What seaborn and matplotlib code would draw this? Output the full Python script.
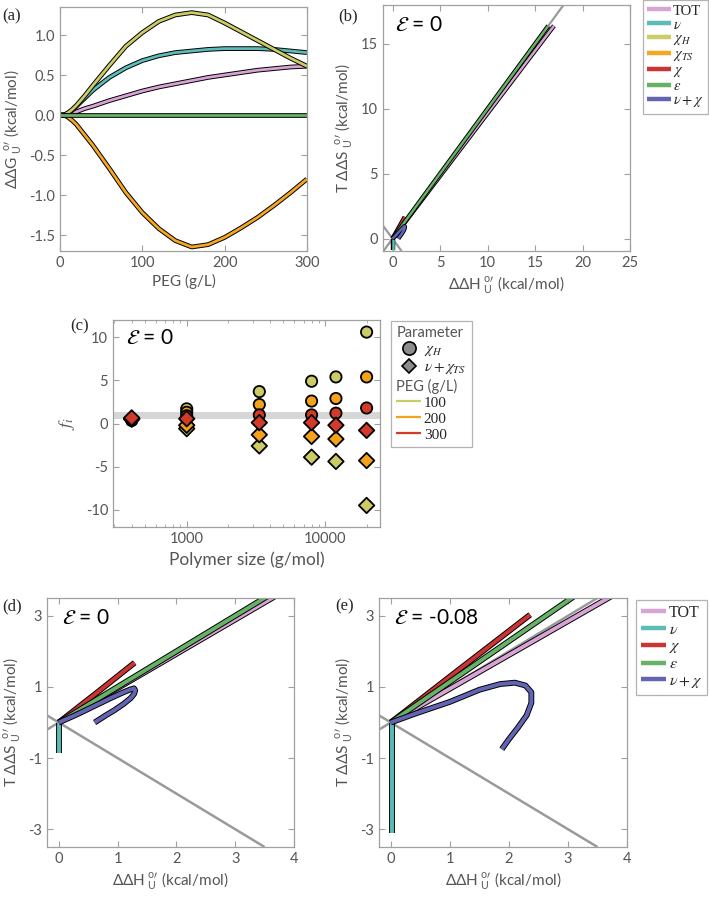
import matplotlib
matplotlib.use("Agg")
import matplotlib.pyplot as plt
import matplotlib.patheffects as pe
from matplotlib.lines import Line2D
from matplotlib.font_manager import FontProperties
import pandas as pd
import seaborn as sns


# ---- (a) ddG vs PEG concentration ----
peg_conc = [0, 5, 10, 15, 20, 30, 40, 60, 80, 100, 120, 140, 160, 180, 200, 220, 240, 260, 280, 300]
dg_tot = [0, 0, 0.01, 0.025, 0.04, 0.08, 0.11, 0.18, 0.24, 0.30, 0.35, 0.39, 0.43, 0.47, 0.50, 0.53, 0.56, 0.58, 0.60, 0.61]
dg_nu = [0, 0, 0.02, 0.06, 0.11, 0.21, 0.31, 0.47, 0.59, 0.68, 0.74, 0.78, 0.80, 0.82, 0.83, 0.83, 0.83, 0.82, 0.80, 0.78]
dg_chi_h = [0, 0, 0.03, 0.07, 0.12, 0.24, 0.37, 0.62, 0.86, 1.03, 1.17, 1.25, 1.28, 1.25, 1.15, 1.04, 0.93, 0.82, 0.71, 0.61]
dg_chi_ts = [0, 0, -0.03, -0.07, -0.12, -0.25, -0.38, -0.67, -0.97, -1.22, -1.42, -1.57, -1.65, -1.62, -1.53, -1.41, -1.28, -1.13, -0.97, -0.80]
dg_eps = [0, 0, 0, 0, 0, 0, 0, 0, 0, 0, 0, 0, 0, 0, 0, 0, 0, 0, 0, 0]

# ---- (b)/(d) enthalpy-entropy, eps = 0 ----
e0_tot_dh = [0.0, 17.0]
e0_tot_tds = [0.0, 16.4]
e0_nu_dh = [0.0, 0.0]
e0_nu_tds = [0.0, -0.85]
e0_chi_dh = [0.0, 0.65, 1.29]
e0_chi_tds = [0.0, 0.84, 1.68]
e0_eps_dh = [0.0, 16.4]
e0_eps_tds = [0.0, 16.4]
e0_nuchi_dh = [0.0, 0.3, 0.6, 0.9, 1.1, 1.22, 1.28, 1.30, 1.28, 1.22, 1.10, 0.95, 0.80, 0.61]
e0_nuchi_tds = [0.0, 0.22, 0.46, 0.70, 0.85, 0.93, 0.96, 0.90, 0.80, 0.68, 0.52, 0.35, 0.20, 0.0]

# ---- (e) eps = -0.08 ----
e8_tot_dh = [0.0, 4.0]
e8_tot_tds = [0.0, 3.8]
e8_nu_dh = [0.02, 0.02]
e8_nu_tds = [0.0, -3.12]
e8_chi_dh = [0.0, 1.18, 2.36]
e8_chi_tds = [0.0, 1.52, 3.03]
e8_eps_dh = [0.0, 3.5]
e8_eps_tds = [0.0, 4.0]
e8_nuchi_dh = [0.0, 0.45, 1.0, 1.5, 1.85, 2.1, 2.28, 2.38, 2.38, 2.30, 2.15, 2.0, 1.88]
e8_nuchi_tds = [0.0, 0.27, 0.58, 0.92, 1.08, 1.12, 1.04, 0.85, 0.55, 0.20, -0.15, -0.47, -0.75]

# ---- (c) f_i vs polymer size ----
poly_size = [400, 1000, 3350, 8000, 12000, 20000]
f_chih_100 = [0.35, 1.7, 3.7, 4.9, 5.4, 10.6]
f_chih_200 = [0.4, 1.3, 2.2, 2.6, 2.9, 5.4]
f_chih_300 = [0.45, 0.9, 1.0, 1.0, 1.2, 1.8]
f_nuchits_100 = [0.5, -0.6, -2.6, -3.9, -4.4, -9.5]
f_nuchits_200 = [0.55, -0.2, -1.3, -1.5, -1.8, -4.3]
f_nuchits_300 = [0.65, 0.55, 0.1, 0.1, -0.2, -0.8]

C_TOT = "#d9a3d6"
C_NU = "#5cbcb8"
C_CHIH = "#cccc66"
C_CHITS = "#f5a623"
C_CHI = "#cc3333"
C_EPS = "#66b266"
C_NUCHI = "#6464b4"
PEG_COLORS = {100: "#cccc66", 200: "#f5a21b", 300: "#d23a2a"}
GREY = "#9a9a9a"
SPINE = "#a0a0a0"
TEXT = "#555555"

sns.set_style("ticks")
plt.rcParams["font.family"] = ["Lato", "DejaVu Sans"]
plt.rcParams["axes.unicode_minus"] = False
plt.rcParams["lines.solid_capstyle"] = "butt"
plt.rcParams["lines.solid_joinstyle"] = "round"

SERIF = ["Liberation Serif", "DejaVu Serif"]
DG_LABEL = "ΔΔG$_{\\ \\mathregular{U}}^{\\ \\ \\mathregular{o}\\prime}$ (kcal/mol)"
DH_LABEL = "ΔΔH$_{\\ \\mathregular{U}}^{\\ \\mathregular{o}\\prime}$ (kcal/mol)"
TS_LABEL = "T ΔΔS$_{\\ \\mathregular{U}}^{\\ \\ \\mathregular{o}\\prime}$ (kcal/mol)"


def style_axes(ax):
    for spine in ax.spines.values():
        spine.set_color(SPINE)
        spine.set_linewidth(0.9)
    ax.tick_params(which="both", direction="in", top=True, right=True,
                   color=SPINE, labelcolor=TEXT, labelsize=10.5)
    ax.tick_params(which="major", length=4, width=0.8)
    ax.tick_params(which="minor", length=2.5, width=0.6)
    ax.xaxis.label.set_color(TEXT)
    ax.yaxis.label.set_color(TEXT)


def outlined(ax, x, y, color, lw):
    sns.lineplot(x=x, y=y, color=color, lw=lw, sort=False, estimator=None, ax=ax,
                 path_effects=[pe.Stroke(linewidth=lw + 1.4, foreground="black"), pe.Normal()])


def eps_text(ax, label, x=0.05):
    ax.text(x, 0.96, label, transform=ax.transAxes, fontsize=15, va="top",
            math_fontfamily="stix", color="black")


def line_legend(fig, entries, x, y, size=11.5):
    handles = [Line2D([], [], color=c, lw=3.2) for c, _ in entries]
    labels = [lab for _, lab in entries]
    prop = FontProperties(family=SERIF, size=size, math_fontfamily="stix")
    leg = fig.legend(handles, labels, loc="upper left", bbox_to_anchor=(x, y),
                     bbox_transform=fig.transFigure, prop=prop, frameon=True,
                     fancybox=False, handlelength=1.6, handletextpad=0.15,
                     labelspacing=0.05, borderpad=0.3, borderaxespad=0)
    leg.get_frame().set_edgecolor(SPINE)
    leg.get_frame().set_linewidth(0.9)
    return leg


fig = plt.figure(figsize=(7.09, 9.0), dpi=100)

# ---------------- (a) ----------------
ax_a = fig.add_axes([60 / 709, 1 - 251 / 900, 247 / 709, 244 / 900])
outlined(ax_a, peg_conc, dg_tot, C_TOT, 2.0)
outlined(ax_a, peg_conc, dg_nu, C_NU, 2.0)
outlined(ax_a, peg_conc, dg_chi_h, C_CHIH, 2.0)
outlined(ax_a, peg_conc, dg_chi_ts, C_CHITS, 2.0)
outlined(ax_a, peg_conc, dg_eps, C_EPS, 2.0)
ax_a.set_xlim(0, 300)
ax_a.set_ylim(-1.7, 1.35)
ax_a.set_xticks([0, 100, 200, 300])
ax_a.set_yticks([-1.5, -1.0, -0.5, 0.0, 0.5, 1.0])
ax_a.set_yticklabels(["-1.5", "-1.0", "-0.5", "0.0", "0.5", "1.0"])
ax_a.set_xlabel("PEG (g/L)", fontsize=11, labelpad=3)
ax_a.set_ylabel(DG_LABEL, fontsize=11, labelpad=4)
style_axes(ax_a)
fig.text(2 / 709, 1 - 20 / 900, "(a)", fontsize=12, family=SERIF)

# ---------------- (b) ----------------
ax_b = fig.add_axes([383 / 709, 1 - 251 / 900, 247 / 709, 246 / 900])
ax_b.axline((0, 0), slope=1, color=GREY, lw=1.6)
ax_b.axline((0, 0), slope=-1, color=GREY, lw=1.6)
outlined(ax_b, e0_tot_dh, e0_tot_tds, C_TOT, 1.8)
outlined(ax_b, e0_nu_dh, e0_nu_tds, C_NU, 1.8)
outlined(ax_b, e0_chi_dh, e0_chi_tds, C_CHI, 1.8)
outlined(ax_b, e0_eps_dh, e0_eps_tds, C_EPS, 1.8)
outlined(ax_b, e0_nuchi_dh, e0_nuchi_tds, C_NUCHI, 1.8)
ax_b.set_xlim(-1, 25)
ax_b.set_ylim(-0.95, 18)
ax_b.set_xticks([0, 5, 10, 15, 20, 25])
ax_b.set_yticks([0, 5, 10, 15])
ax_b.set_xlabel(DH_LABEL, fontsize=11, labelpad=3)
ax_b.set_ylabel(TS_LABEL, fontsize=11, labelpad=4)
style_axes(ax_b)
eps_text(ax_b, "$\\mathcal{E}$ = 0")
fig.text(338 / 709, 1 - 20 / 900, "(b)", fontsize=12, family=SERIF)
line_legend(fig, [(C_TOT, "TOT"), (C_NU, "$\\nu$"), (C_CHIH, "$\\chi_H$"),
                  (C_CHITS, "$\\chi_{TS}$"), (C_CHI, "$\\chi$"), (C_EPS, "$\\varepsilon$"),
                  (C_NUCHI, "$\\nu + \\chi$")], 643 / 709, 1.0, size=10.5)

# ---------------- (c) ----------------
rows = []
for param, series in [("chi_h", [f_chih_100, f_chih_200, f_chih_300]),
                      ("nu_chi_ts", [f_nuchits_100, f_nuchits_200, f_nuchits_300])]:
    for peg, vals in zip([100, 200, 300], series):
        for size, val in zip(poly_size, vals):
            rows.append({"size": size, "f": val, "peg": peg, "param": param})
df_c = pd.DataFrame(rows)

ax_c = fig.add_axes([113 / 709, 1 - 527 / 900, 267 / 709, 207 / 900])
ax_c.axhline(1, color="#d6d6d6", lw=5, zorder=0)
sns.scatterplot(data=df_c, x="size", y="f", hue="peg", style="param", size="param",
                palette=PEG_COLORS, markers={"chi_h": "o", "nu_chi_ts": "D"},
                sizes={"chi_h": 66, "nu_chi_ts": 62}, edgecolor="black", linewidth=1.3,
                legend=False, ax=ax_c, zorder=3)
ax_c.set_xscale("log")
ax_c.set_xlim(293, 25000)
ax_c.set_ylim(-12, 12)
ax_c.set_xticks([1000, 10000])
ax_c.set_xticklabels(["1000", "10000"])
ax_c.set_yticks([-10, -5, 0, 5, 10])
ax_c.set_xlabel("Polymer size (g/mol)", fontsize=12.5, labelpad=4)
ax_c.set_ylabel("$f_i$", fontsize=13, math_fontfamily="stix", labelpad=6)
style_axes(ax_c)
eps_text(ax_c, "$\\mathcal{E}$ = 0", x=0.05)
fig.text(70 / 709, 1 - 330 / 900, "(c)", fontsize=12, family=SERIF)

c_handles = [
    Line2D([], [], ls="none", marker="o", markerfacecolor="#8c8c8c", markeredgecolor="black", markersize=9.5, markeredgewidth=1.2),
    Line2D([], [], ls="none", marker="D", markerfacecolor="#8c8c8c", markeredgecolor="black", markersize=7.5, markeredgewidth=1.2),
    Line2D([], [], ls="none"),
    Line2D([], [], color=PEG_COLORS[100], lw=1.6),
    Line2D([], [], color=PEG_COLORS[200], lw=1.6),
    Line2D([], [], color=PEG_COLORS[300], lw=1.6),
]
c_labels = ["$\\chi_H$", "$\\nu + \\chi_{TS}$", "PEG (g/L)", "100", "200", "300"]
leg_c = fig.legend(c_handles, c_labels, loc="upper left", bbox_to_anchor=(391 / 709, 1 - 321 / 900),
                   bbox_transform=fig.transFigure, title="Parameter", alignment="left",
                   prop=FontProperties(family=SERIF, size=11, math_fontfamily="stix"),
                   title_fontproperties=FontProperties(family=["Lato", "DejaVu Sans"], size=10.5),
                   frameon=True, fancybox=False, handlelength=1.6, handletextpad=0.2,
                   labelspacing=0.15, borderpad=0.35, borderaxespad=0)
leg_c.get_frame().set_edgecolor(SPINE)
leg_c.get_frame().set_linewidth(0.9)
leg_c.get_title().set_color(TEXT)
for col in leg_c._legend_handle_box.get_children():
    for row in col.get_children():
        handle_box, text_box = row.get_children()
        if text_box._text.get_text() == "PEG (g/L)":
            handle_box.width = 0
            row.sep = 0
            text_box._text.set_fontfamily(["Lato", "DejaVu Sans"])
            text_box._text.set_fontsize(10.5)
            text_box._text.set_color(TEXT)


def thermo_panel(ax, data, eps_label):
    ax.axline((0, 0), slope=1, color=GREY, lw=1.8)
    ax.axline((0, 0), slope=-1, color=GREY, lw=1.8)
    for x, y, c in data:
        outlined(ax, x, y, c, 2.8)
    ax.set_xlim(-0.2, 4)
    ax.set_ylim(-3.5, 3.5)
    ax.set_xticks([0, 1, 2, 3, 4])
    ax.set_yticks([-3, -1, 1, 3])
    ax.set_xlabel(DH_LABEL, fontsize=11, labelpad=3)
    ax.set_ylabel(TS_LABEL, fontsize=11, labelpad=4)
    style_axes(ax)
    eps_text(ax, eps_label, x=0.06)


# ---------------- (d) ----------------
ax_d = fig.add_axes([47 / 709, 1 - 847 / 900, 247 / 709, 249 / 900])
thermo_panel(ax_d, [(e0_tot_dh, e0_tot_tds, C_TOT), (e0_nu_dh, e0_nu_tds, C_NU),
                    (e0_chi_dh, e0_chi_tds, C_CHI), (e0_eps_dh, e0_eps_tds, C_EPS),
                    (e0_nuchi_dh, e0_nuchi_tds, C_NUCHI)], "$\\mathcal{E}$ = 0")
fig.text(2 / 709, 1 - 610 / 900, "(d)", fontsize=12, family=SERIF)

# ---------------- (e) ----------------
ax_e = fig.add_axes([379 / 709, 1 - 847 / 900, 248 / 709, 249 / 900])
thermo_panel(ax_e, [(e8_tot_dh, e8_tot_tds, C_TOT), (e8_nu_dh, e8_nu_tds, C_NU),
                    (e8_chi_dh, e8_chi_tds, C_CHI), (e8_eps_dh, e8_eps_tds, C_EPS),
                    (e8_nuchi_dh, e8_nuchi_tds, C_NUCHI)], "$\\mathcal{E}$ = -0.08")
fig.text(335 / 709, 1 - 610 / 900, "(e)", fontsize=12, family=SERIF)
line_legend(fig, [(C_TOT, "TOT"), (C_NU, "$\\nu$"), (C_CHI, "$\\chi$"),
                  (C_EPS, "$\\varepsilon$"), (C_NUCHI, "$\\nu + \\chi$")],
            636 / 709, 1 - 600 / 900)

fig.savefig("out.png", dpi=100)
